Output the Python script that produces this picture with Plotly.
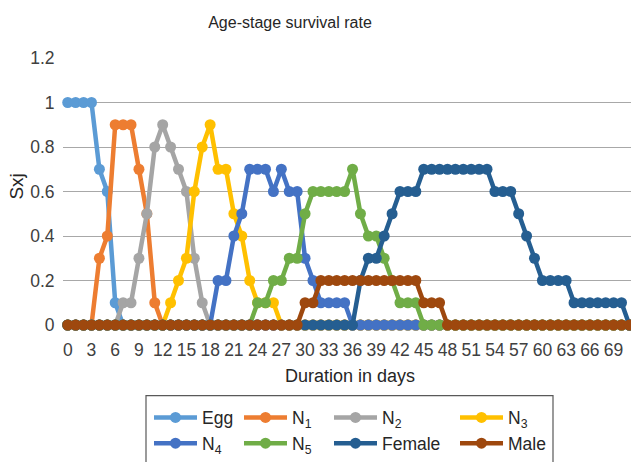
import plotly.graph_objects as go

days = list(range(0, 72))

egg = [1, 1, 1, 1, 0.7, 0.6, 0.1, 0, 0, 0, 0, 0,
       0, 0, 0, 0, 0, 0, 0, 0, 0, 0, 0, 0,
       0, 0, 0, 0, 0, 0, 0, 0, 0, 0, 0, 0,
       0, 0, 0, 0, 0, 0, 0, 0, 0, 0, 0, 0,
       0, 0, 0, 0, 0, 0, 0, 0, 0, 0, 0, 0,
       0, 0, 0, 0, 0, 0, 0, 0, 0, 0, 0, 0]
n1 = [0, 0, 0, 0, 0.3, 0.4, 0.9, 0.9, 0.9, 0.7, 0.5, 0.1,
      0, 0, 0, 0, 0, 0, 0, 0, 0, 0, 0, 0,
      0, 0, 0, 0, 0, 0, 0, 0, 0, 0, 0, 0,
      0, 0, 0, 0, 0, 0, 0, 0, 0, 0, 0, 0,
      0, 0, 0, 0, 0, 0, 0, 0, 0, 0, 0, 0,
      0, 0, 0, 0, 0, 0, 0, 0, 0, 0, 0, 0]
n2 = [0, 0, 0, 0, 0, 0, 0, 0.1, 0.1, 0.3, 0.5, 0.8,
      0.9, 0.8, 0.7, 0.6, 0.3, 0.1, 0, 0, 0, 0, 0, 0,
      0, 0, 0, 0, 0, 0, 0, 0, 0, 0, 0, 0,
      0, 0, 0, 0, 0, 0, 0, 0, 0, 0, 0, 0,
      0, 0, 0, 0, 0, 0, 0, 0, 0, 0, 0, 0,
      0, 0, 0, 0, 0, 0, 0, 0, 0, 0, 0, 0]
n3 = [0, 0, 0, 0, 0, 0, 0, 0, 0, 0, 0, 0,
      0, 0.1, 0.2, 0.3, 0.6, 0.8, 0.9, 0.7, 0.7, 0.5, 0.4, 0.2,
      0.1, 0.1, 0.1, 0, 0, 0, 0, 0, 0, 0, 0, 0,
      0, 0, 0, 0, 0, 0, 0, 0, 0, 0, 0, 0,
      0, 0, 0, 0, 0, 0, 0, 0, 0, 0, 0, 0,
      0, 0, 0, 0, 0, 0, 0, 0, 0, 0, 0, 0]
n4 = [0, 0, 0, 0, 0, 0, 0, 0, 0, 0, 0, 0,
      0, 0, 0, 0, 0, 0, 0, 0.2, 0.2, 0.4, 0.5, 0.7,
      0.7, 0.7, 0.6, 0.7, 0.6, 0.6, 0.3, 0.2, 0.1, 0.1, 0.1, 0.1,
      0, 0, 0, 0, 0, 0, 0, 0, 0, 0, 0, 0,
      0, 0, 0, 0, 0, 0, 0, 0, 0, 0, 0, 0,
      0, 0, 0, 0, 0, 0, 0, 0, 0, 0, 0, 0]
n5 = [0, 0, 0, 0, 0, 0, 0, 0, 0, 0, 0, 0,
      0, 0, 0, 0, 0, 0, 0, 0, 0, 0, 0, 0,
      0.1, 0.1, 0.2, 0.2, 0.3, 0.3, 0.5, 0.6, 0.6, 0.6, 0.6, 0.6,
      0.7, 0.5, 0.4, 0.4, 0.3, 0.2, 0.1, 0.1, 0.1, 0, 0, 0,
      0, 0, 0, 0, 0, 0, 0, 0, 0, 0, 0, 0,
      0, 0, 0, 0, 0, 0, 0, 0, 0, 0, 0, 0]
female = [0, 0, 0, 0, 0, 0, 0, 0, 0, 0, 0, 0,
          0, 0, 0, 0, 0, 0, 0, 0, 0, 0, 0, 0,
          0, 0, 0, 0, 0, 0, 0, 0, 0, 0, 0, 0,
          0, 0.2, 0.3, 0.3, 0.4, 0.5, 0.6, 0.6, 0.6, 0.7, 0.7, 0.7,
          0.7, 0.7, 0.7, 0.7, 0.7, 0.7, 0.6, 0.6, 0.6, 0.5, 0.4, 0.3,
          0.2, 0.2, 0.2, 0.2, 0.1, 0.1, 0.1, 0.1, 0.1, 0.1, 0.1, 0]
male = [0, 0, 0, 0, 0, 0, 0, 0, 0, 0, 0, 0,
        0, 0, 0, 0, 0, 0, 0, 0, 0, 0, 0, 0,
        0, 0, 0, 0, 0, 0, 0.1, 0.1, 0.2, 0.2, 0.2, 0.2,
        0.2, 0.2, 0.2, 0.2, 0.2, 0.2, 0.2, 0.2, 0.2, 0.1, 0.1, 0.1,
        0, 0, 0, 0, 0, 0, 0, 0, 0, 0, 0, 0,
        0, 0, 0, 0, 0, 0, 0, 0, 0, 0, 0, 0]

series_names = ["Egg", "N<sub>1</sub>", "N<sub>2</sub>", "N<sub>3</sub>",
                "N<sub>4</sub>", "N<sub>5</sub>", "Female", "Male"]
series_values = [egg, n1, n2, n3, n4, n5, female, male]
colors = ["#5B9BD5", "#ED7D31", "#A5A5A5", "#FFC000",
          "#4472C4", "#70AD47", "#255E91", "#9E480E"]
legend_ids = ["legend", "legend2", "legend3", "legend4",
              "legend", "legend2", "legend3", "legend4"]

FONT = "Liberation Sans, Arial, sans-serif"

fig = go.Figure()
for name, vals, col, lg in zip(series_names, series_values, colors, legend_ids):
    fig.add_trace(go.Scatter(
        x=days, y=vals, name=name, mode="lines+markers",
        line=dict(color=col, width=4.5),
        marker=dict(color=col, size=11),
        cliponaxis=False, legend=lg,
    ))

W, H = 631, 462
L, R, T, B = 63, 0, 58, 132
pw, ph = W - L - R, H - T - B


def px_x(p):
    return (p - L) / pw


def px_y(p):
    return (H - B - p) / ph


leg_common = dict(orientation="v", bgcolor="rgba(0,0,0,0)", borderwidth=0,
                  font=dict(family=FONT, size=17.5, color="#262626"),
                  xanchor="left", yanchor="top", tracegroupgap=0,
                  itemwidth=43)
leg_y = px_y(406)

fig.update_layout(
    width=W, height=H,
    margin=dict(l=L, r=R, t=T, b=B),
    paper_bgcolor="white", plot_bgcolor="white",
    font=dict(family=FONT, size=17.5, color="#404040"),
    title=dict(text="Age-stage survival rate", x=290 / W, xref="container",
               xanchor="center", y=1 - 22 / H, yref="container", yanchor="middle",
               font=dict(family=FONT, size=16, color="#262626")),
    xaxis=dict(range=[-0.6, 71.2], tick0=0, dtick=3, showgrid=False,
               zeroline=False, showline=False,
               ticks="outside", ticklen=9, tickcolor="rgba(0,0,0,0)",
               tickfont=dict(family=FONT, size=17.5, color="#404040")),
    yaxis=dict(range=[0, 1.2], dtick=0.2, showgrid=True, gridcolor="#A8A8A8",
               gridwidth=1, zeroline=False, showline=False,
               ticks="outside", ticklen=4, tickcolor="rgba(0,0,0,0)",
               tickfont=dict(family=FONT, size=17.5, color="#404040")),
    legend=dict(x=px_x(149), y=leg_y, **leg_common),
    legend2=dict(x=px_x(239), y=leg_y, **leg_common),
    legend3=dict(x=px_x(329), y=leg_y, **leg_common),
    legend4=dict(x=px_x(455), y=leg_y, **leg_common),
    showlegend=True,
)

fig.add_shape(type="rect", xref="paper", yref="paper",
              x0=px_x(146), x1=px_x(553), y0=px_y(402), y1=px_y(475),
              line=dict(color="#595959", width=1.2), fillcolor="rgba(0,0,0,0)")

fig.add_annotation(text="Duration in days", xref="paper", yref="paper",
                   x=px_x(350), y=px_y(382), showarrow=False,
                   xanchor="center", yanchor="middle",
                   font=dict(family=FONT, size=18, color="#262626"))
fig.add_annotation(text="Sxj", xref="paper", yref="paper",
                   x=px_x(17), y=px_y(189), showarrow=False, textangle=-90,
                   xanchor="center", yanchor="middle",
                   font=dict(family=FONT, size=19, color="#262626"))

fig.write_html("out.html")
